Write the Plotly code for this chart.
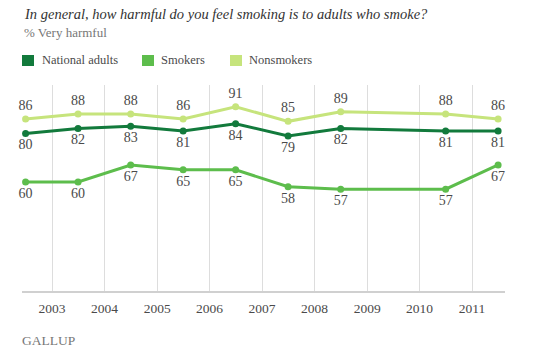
import plotly.graph_objects as go

survey_years = [2002, 2003, 2004, 2005, 2006, 2007, 2008, 2010, 2011]
national_adults = [80, 82, 83, 81, 84, 79, 82, 81, 81]
smokers = [60, 60, 67, 65, 65, 58, 57, 57, 67]
nonsmokers = [86, 88, 88, 86, 91, 85, 89, 88, 86]
tick_years = [2003, 2004, 2005, 2006, 2007, 2008, 2009, 2010, 2011]

title_text = "In general, how harmful do you feel smoking is to adults who smoke?"
subtitle_text = "% Very harmful"

x_dates = [f"{y}-07-01" for y in survey_years]

C_NAT = "#127a3c"
C_SMK = "#5dbd4c"
C_NON = "#c6e47c"
TXT = "#4a4a4a"
SERIF = "Liberation Serif, Times New Roman, serif"

W, H = 540, 357
L, R, T, B = 22, 35, 85, 66
pw, ph = W - L - R, H - T - B

def px(x):
    return (x - L) / pw

def py(y):
    return (H - B - y) / ph

fig = go.Figure()

series = [
    ("Nonsmokers", nonsmokers, C_NON, "top center"),
    ("National adults", national_adults, C_NAT, "bottom center"),
    ("Smokers", smokers, C_SMK, "bottom center"),
]
for name, vals, col, pos in series:
    fig.add_trace(go.Scatter(
        x=x_dates, y=vals, name=name,
        mode="lines+markers+text",
        line=dict(color=col, width=3),
        marker=dict(color=col, size=7),
        text=[str(v) for v in vals],
        textposition=pos,
        textfont=dict(family=SERIF, size=14, color=TXT),
        cliponaxis=False,
        showlegend=False,
        hoverinfo="x+y+name",
    ))

annotations = [
    dict(text=f"<i>{title_text}</i>", x=px(22), y=py(13.5), xref="paper", yref="paper",
         xanchor="left", yanchor="middle", showarrow=False,
         font=dict(family=SERIF, size=14.5, color="#333333")),
    dict(text=subtitle_text, x=px(22), y=py(33), xref="paper", yref="paper",
         xanchor="left", yanchor="middle", showarrow=False,
         font=dict(family=SERIF, size=13, color="#777777")),
    dict(text="GALLUP", x=px(20), y=py(340), xref="paper", yref="paper",
         xanchor="left", yanchor="middle", showarrow=False,
         font=dict(family=SERIF, size=13.5, color="#777777")),
]
shapes = []
legend_items = [("National adults", C_NAT, 22, 40), ("Smokers", C_SMK, 142, 159), ("Nonsmokers", C_NON, 230, 247)]
for name, col, sx, tx in legend_items:
    shapes.append(dict(type="rect", xref="paper", yref="paper",
                       x0=px(sx), x1=px(sx + 12), y0=py(66), y1=py(55),
                       fillcolor=col, line=dict(width=0)))
    annotations.append(dict(text=name, x=px(tx), y=py(60.5), xref="paper", yref="paper",
                            xanchor="left", yanchor="middle", showarrow=False,
                            font=dict(family=SERIF, size=12.5, color=TXT)))

fig.update_layout(
    width=W, height=H,
    margin=dict(l=L, r=R, t=T, b=B),
    paper_bgcolor="white", plot_bgcolor="white",
    annotations=annotations, shapes=shapes,
    xaxis=dict(
        type="date",
        range=["2002-06-06", "2011-08-18"],
        tickvals=[f"{y}-01-01" for y in tick_years],
        ticktext=[str(y) for y in tick_years],
        showgrid=True, gridcolor="#dddddd", gridwidth=1,
        showline=True, linecolor="#d0d0d0", linewidth=2,
        ticks="", ticklen=0, ticklabelstandoff=4,
        tickfont=dict(family=SERIF, size=13.5, color=TXT),
        zeroline=False,
    ),
    yaxis=dict(range=[15, 100], visible=False, showgrid=False, zeroline=False),
)

fig.write_html("out.html", config={"displayModeBar": False},
               post_script="document.body.style.margin='0';")
